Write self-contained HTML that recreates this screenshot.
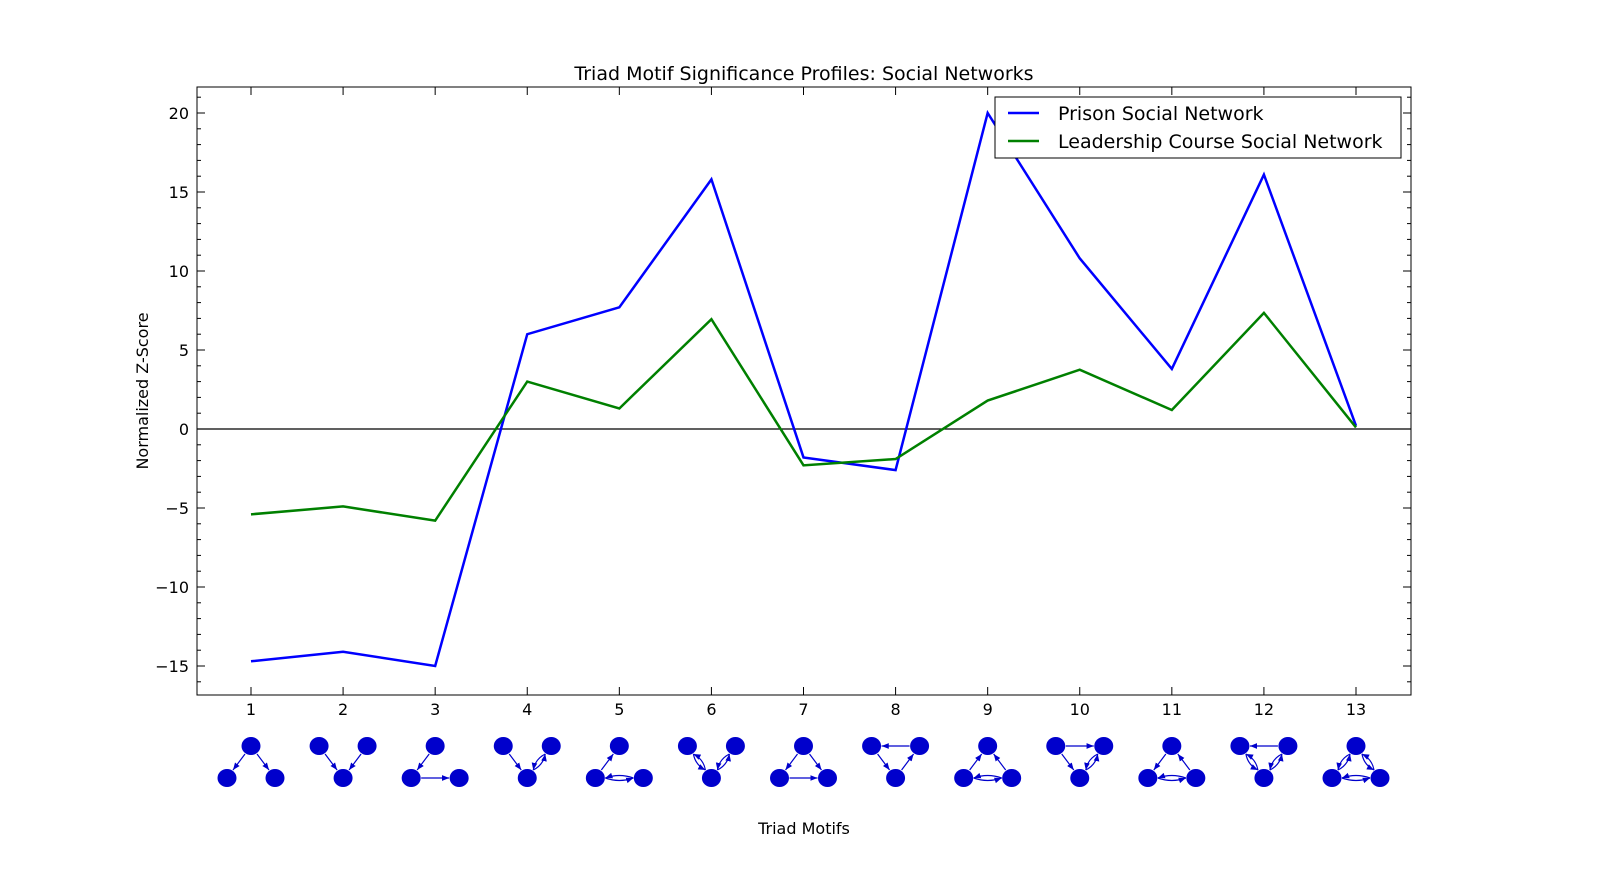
<!DOCTYPE html>
<html><head><meta charset="utf-8"><style>body{margin:0;background:#fff}svg{display:block;font-family:"DejaVu Sans","Liberation Sans",sans-serif}</style></head>
<body>
<svg id="c" width="1600" height="886">
<defs><marker id="ah" viewBox="0 0 10 10" refX="10" refY="5" markerWidth="6" markerHeight="6" orient="auto"><path d="M0,1L10,5L0,9z" fill="#0000cc"/></marker></defs>
</svg>
<script>
const categories=[1,2,3,4,5,6,7,8,9,10,11,12,13];
const prison=[-14.7,-14.1,-15.0,6.0,7.7,15.8,-1.8,-2.6,20.0,10.8,3.8,16.1,0.2];
const leadership=[-5.4,-4.9,-5.8,3.0,1.3,6.95,-2.3,-1.9,1.8,3.75,1.2,7.35,0.1];
const yTicks=[-15,-10,-5,0,5,10,15,20];
const yTickLabels=["\u221215","\u221210","\u22125","0","5","10","15","20"];
const motifEdges=[
[[0,1],[0,2]],[[0,2],[1,2]],[[0,1],[1,2]],[[0,2],[1,2],[2,1]],[[1,0],[1,2],[2,1]],
[[0,2],[2,0],[1,2],[2,1]],[[0,1],[0,2],[1,2]],[[1,0],[0,2],[2,1]],[[1,0],[2,0],[1,2],[2,1]],
[[0,1],[0,2],[1,2],[2,1]],[[0,1],[2,0],[1,2],[2,1]],[[1,0],[0,2],[2,0],[1,2],[2,1]],
[[0,1],[1,0],[0,2],[2,0],[1,2],[2,1]]];
const vShape=[false,true,false,true,false,true,false,true,false,true,false,true,false];
const L=197,R=1411,T=87,B=695;
const X=v=>251+(v-1)*(1356-251)/12;
const Y=v=>429-v*15.8;
const svg=document.getElementById('c');const NS='http://www.w3.org/2000/svg';
function el(t,a,p){const e=document.createElementNS(NS,t);for(const k in a)e.setAttribute(k,a[k]);(p||svg).appendChild(e);return e;}
let t=el('text',{x:804,y:80,'font-size':19,'text-anchor':'middle'});t.textContent='Triad Motif Significance Profiles: Social Networks';


let fr=el('rect',{x:L,y:T,width:R-L,height:B-T,fill:'none',stroke:'#000','stroke-width':1});


for(let v=-16;v<=21;v++){const y=Y(v),len=yTicks.includes(v)?8:4;
el('line',{x1:L,x2:L+len,y1:y,y2:y,stroke:'#000'});el('line',{x1:R,x2:R-len,y1:y,y2:y,stroke:'#000'});}
yTicks.forEach((v,i)=>{const e=el('text',{x:L-8,y:Y(v)+6,'font-size':16,'text-anchor':'end'});e.textContent=yTickLabels[i];

});
categories.forEach(c=>{const x=X(c);el('line',{x1:x,x2:x,y1:B,y2:B-8,stroke:'#000'});el('line',{x1:x,x2:x,y1:T,y2:T+8,stroke:'#000'});
const e=el('text',{x:x,y:715,'font-size':16,'text-anchor':'middle'});e.textContent=c;

});
el('line',{x1:L,x2:R,y1:Y(0),y2:Y(0),stroke:'#000','stroke-width':1.2});
function line(d,col,name){const p=el('polyline',{points:d.map((v,i)=>X(categories[i])+','+Y(v)).join(' '),fill:'none',stroke:col,'stroke-width':2.5});

}
line(prison,'#0000ff','prison-line');line(leadership,'#008000','leadership-line');
let yl=el('text',{x:148,y:391,'font-size':16,'text-anchor':'middle',transform:'rotate(-90 148 391)'});yl.textContent='Normalized Z-Score';


let xl=el('text',{x:804,y:834,'font-size':16,'text-anchor':'middle'});xl.textContent='Triad Motifs';


const lg=el('g',{});


el('rect',{x:995,y:97,width:406,height:61,fill:'#fff',stroke:'#000'},lg);
el('line',{x1:1008,x2:1039,y1:113,y2:113,stroke:'#0000ff','stroke-width':2.5},lg);
el('line',{x1:1008,x2:1039,y1:141,y2:141,stroke:'#008000','stroke-width':2.5},lg);
let a=el('text',{x:1058,y:120,'font-size':19},lg);a.textContent='Prison Social Network';


let b=el('text',{x:1058,y:148,'font-size':19},lg);b.textContent='Leadership Course Social Network';


categories.forEach((c,i)=>{const cx=X(c);const g=el('g',{});


const n=vShape[i]?[[cx-24,746],[cx+24,746],[cx,778]]:[[cx,746],[cx-24,778],[cx+24,778]];
const es=motifEdges[i];
es.forEach(([s,d])=>{const bi=es.some(e=>e[0]===d&&e[1]===s);const [x1,y1]=n[s],[x2,y2]=n[d];
const dx=x2-x1,dy=y2-y1,len=Math.hypot(dx,dy),ux=dx/len,uy=dy/len;
const sx=x1+ux*10,sy=y1+uy*10,ex=x2-ux*10,ey=y2-uy*10;
if(bi){const mx=(sx+ex)/2-uy*5,my=(sy+ey)/2+ux*5;el('path',{d:`M${sx},${sy}Q${mx},${my} ${ex},${ey}`,fill:'none',stroke:'#0000cc','stroke-width':1.2,'marker-end':'url(#ah)'},g);}
else el('line',{x1:sx,y1:sy,x2:ex,y2:ey,stroke:'#0000cc','stroke-width':1.2,'marker-end':'url(#ah)'},g);});
n.forEach(([x,y])=>el('ellipse',{cx:x,cy:y,rx:9.5,ry:9,fill:'#0000cc'},g));});
</script>
</body></html>
